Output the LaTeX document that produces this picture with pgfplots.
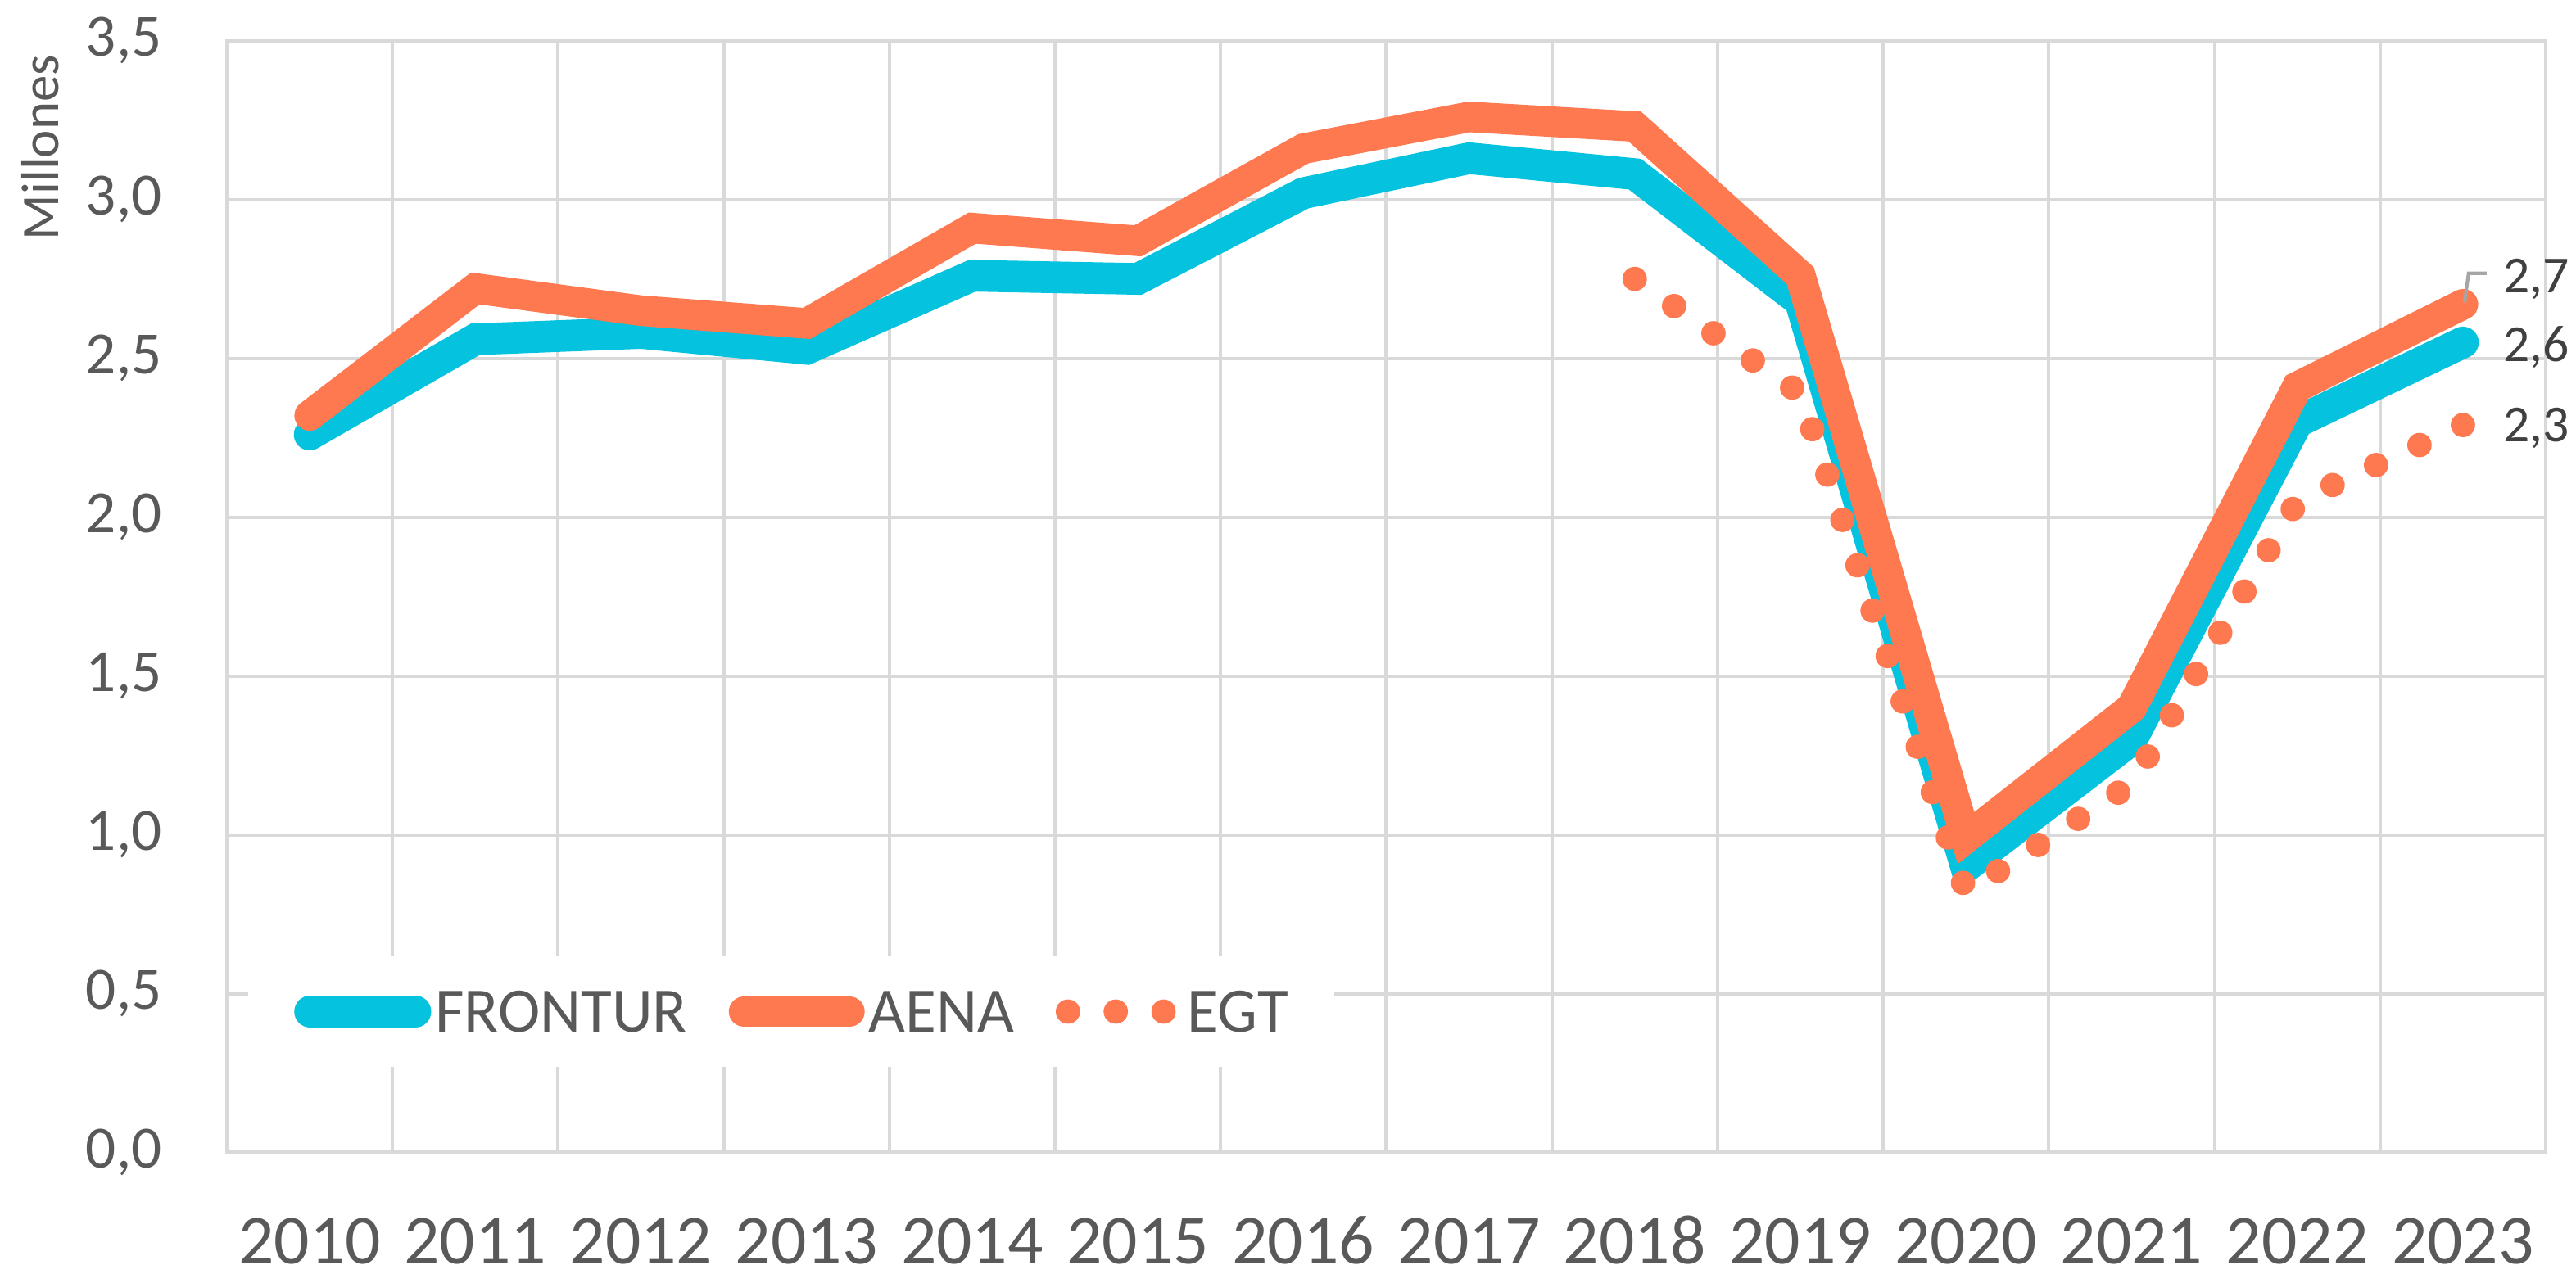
\documentclass[border=0pt]{standalone}
\usepackage{pgfplots}
\pgfplotsset{compat=1.18}
\usepackage{fontspec}
\setmainfont{Carlito}

\definecolor{frontur}{RGB}{5,195,222}
\definecolor{aena}{RGB}{255,121,80}
\definecolor{gridgray}{RGB}{217,217,217}
\definecolor{ticktext}{RGB}{89,89,89}
\definecolor{labeltext}{RGB}{64,64,64}
\definecolor{leader}{RGB}{166,166,166}

\pgfplotsset{
  thickleg/.style={legend image code/.code={\draw[##1] (2.8pt,0pt) -- (21.4pt,0pt); \path (3.7pt,-0.1pt) (20.5pt,0.1pt);}},
  dotleg/.style={legend image code/.code={\draw[##1] (2.2pt,0pt) -- (19.1pt,0pt); \path (3.7pt,-0.1pt) (20.5pt,0.1pt);}},
}

\begin{document}
\begin{tikzpicture}
\begin{axis}[
    scale only axis,
    width=409.7pt, height=196.5pt,
    clip=false,
    xmin=-0.5, xmax=13.5,
    ymin=0, ymax=3.5,
    xtick={0,...,13},
    xticklabels={2010,2011,2012,2013,2014,2015,2016,2017,2018,2019,2020,2021,2022,2023},
    minor xtick={0.5,1.5,...,12.5},
    ytick={0,0.5,1,1.5,2,2.5,3,3.5},
    ymajorgrids, xminorgrids,
    major tick length=0pt, minor tick length=0pt,
    axis line style={gridgray, line width=0.6pt},
    grid style={gridgray, line width=0.6pt},
    minor grid style={gridgray, line width=0.6pt},
    /pgf/number format/.cd, fixed, fixed zerofill, precision=1, use comma, assume math mode=true,
    /pgfplots/.cd,
    yticklabel style={font=\fontsize{10.6}{12}\selectfont, text=ticktext, inner sep=0pt, xshift=-11.3pt},
    xticklabel style={font=\fontsize{12.4}{14}\selectfont, text=ticktext, inner sep=0pt,
      anchor=north, text height=7.9pt, text depth=0pt, yshift=-11.6pt},
    legend columns=-1,
    legend cell align=left,
    legend style={at={(0.0088,0.1267)}, anchor=west, draw=none, fill=white,
      inner xsep=8.1pt, inner ysep=6.2pt,
      font=\fontsize{11.2}{13}\selectfont, text=ticktext,
      nodes={inner sep=0pt, text depth=0pt},
      /tikz/every odd column/.append style={column sep=0.7pt},
      /tikz/every even column/.append style={column sep=7.4pt}},
  ]

  % FRONTUR
  \addplot[frontur, no markers, line width=5.6pt, line cap=round, line join=miter, miter limit=3, thickleg]
  coordinates {
    (0,2.26) (1,2.56) (2,2.58) (3,2.53) (4,2.76) (5,2.75) (6,3.02)
    (7,3.13) (8,3.08) (9,2.68) (10,0.90) (11,1.30) (12,2.30) (13,2.55)
  };

  % AENA
  \addplot[aena, no markers, line width=5.4pt, line cap=round, line join=miter, miter limit=3, thickleg]
  coordinates {
    (0,2.32) (1,2.72) (2,2.65) (3,2.61) (4,2.91) (5,2.87) (6,3.16)
    (7,3.26) (8,3.23) (9,2.76) (10,0.99) (11,1.40) (12,2.41) (13,2.67)
  };

  % EGT (dot period chosen so a dot falls on both ends)
  \addplot[aena, no markers, line width=4.3pt, line cap=round, line join=round,
    dash pattern=on 0pt off 8.45pt, dotleg]
  coordinates {
    (8,2.75) (9,2.39) (10,0.82) (11,1.16) (12,2.05) (13,2.29)
  };

  \legend{FRONTUR, AENA, EGT}

  % data labels
  \draw[leader, line width=0.6pt] ([xshift=0.3pt, yshift=0.3pt]axis cs:13,2.67) -- ++(0.7pt,5.2pt) -- ++(3.2pt,0pt);
  \node[anchor=base west, inner sep=0pt, text=labeltext, font=\fontsize{9.2}{11}\selectfont]
    at ([xshift=7pt, yshift=2.0pt]axis cs:13,2.67) {2,7};
  \node[anchor=base west, inner sep=0pt, text=labeltext, font=\fontsize{9.2}{11}\selectfont]
    at ([xshift=7pt, yshift=-3.4pt]axis cs:13,2.55) {2,6};
  \node[anchor=base west, inner sep=0pt, text=labeltext, font=\fontsize{9.2}{11}\selectfont]
    at ([xshift=7pt, yshift=-2.9pt]axis cs:13,2.29) {2,3};

  \node[rotate=90, inner sep=0pt, text=ticktext, font=\fontsize{9.4}{11}\selectfont]
    at ([xshift=-33pt]rel axis cs:0,0.904) {Millones};

  \coordinate (bbsw) at ([xshift=-40.08pt, yshift=-21.4pt]rel axis cs:0,0);
  \coordinate (bbne) at ([xshift=5.35pt, yshift=7.2pt]rel axis cs:1,1);
\end{axis}
\pgfresetboundingbox
\path (bbsw) rectangle (bbne);
\end{tikzpicture}
\end{document}
